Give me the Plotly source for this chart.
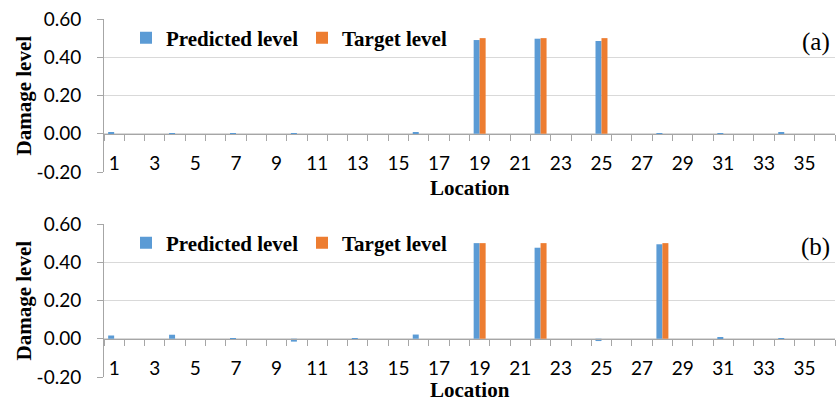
import plotly.graph_objects as go

# Locations 1..36 along the beam
locations = list(range(1, 37))
tick_labels = [str(v) for v in range(1, 37, 2)]

# Case (a): damage at locations 19, 22, 25
pred_a = {1: 0.008, 4: 0.002, 7: -0.004, 10: 0.003, 13: 0.0, 16: 0.004,
          19: 0.49, 22: 0.497, 25: 0.485, 28: 0.003, 31: 0.001, 34: 0.005}
target_a = {19: 0.50, 22: 0.50, 25: 0.50}

# Case (b): damage at locations 19, 22, 28
pred_b = {1: 0.017, 4: 0.021, 7: -0.003, 10: -0.015, 13: -0.004, 16: 0.022,
          19: 0.50, 22: 0.476, 25: -0.012, 28: 0.494, 31: 0.005, 34: -0.003}
target_b = {19: 0.50, 22: 0.50, 28: 0.50}

panels = [("(a)", pred_a, target_a), ("(b)", pred_b, target_b)]

BLUE = "#5B9BD5"
ORANGE = "#ED7D31"
GRID = "#D9D9D9"
AXIS = "#A6A6A6"
SANS = "Lato"
SERIF = "Liberation Serif"

W, H = 836, 402
# pixel extents of each plotting area (top, bottom)
plot_px = [(19, 172), (224, 377)]
left_px, right_px = 104, 835
y_range = [-0.2, 0.6]

fig = go.Figure()
layout = dict(
    width=W, height=H,
    margin=dict(l=0, r=0, t=0, b=0, autoexpand=False),
    paper_bgcolor="white", plot_bgcolor="white",
    barmode="group", bargap=0.41, bargroupgap=0,
    showlegend=True,
)
annotations = []

for i, (tag, pred, target) in enumerate(panels):
    n = "" if i == 0 else str(i + 1)
    top, bot = plot_px[i]
    d0, d1 = 1 - bot / H, 1 - top / H
    zero_pos = d0 + (0 - y_range[0]) / (y_range[1] - y_range[0]) * (d1 - d0)
    legend_name = "legend" + n

    fig.add_trace(go.Bar(
        x=locations, y=[pred.get(k, 0.0) for k in locations],
        name="Predicted level", marker=dict(color=BLUE, line=dict(width=0)),
        xaxis="x" + n, yaxis="y" + n, legend=legend_name,
    ))
    fig.add_trace(go.Bar(
        x=locations, y=[target.get(k, 0.0) for k in locations],
        name="Target level", marker=dict(color=ORANGE, line=dict(width=0)),
        xaxis="x" + n, yaxis="y" + n, legend=legend_name,
    ))

    layout["xaxis" + n] = dict(
        domain=[left_px / W, right_px / W],
        anchor="free", position=zero_pos, automargin=False,
        range=[0.5, 36.5],
        tickmode="array", tickvals=list(range(1, 37, 2)), ticktext=tick_labels,
        ticks="", ticklabelstandoff=12,
        tickfont=dict(family=SANS, size=19, color="#000000"),
        minor=dict(tickmode="linear", tick0=0.5, dtick=1, ticks="outside",
                   ticklen=6, tickcolor=AXIS, tickwidth=1, showgrid=False),
        showline=True, linecolor=AXIS, linewidth=1,
        showgrid=False, zeroline=False, fixedrange=True,
    )
    layout["yaxis" + n] = dict(
        domain=[d0, d1], anchor="x" + n, automargin=False,
        range=y_range, tickmode="array",
        tickvals=[-0.2, 0.0, 0.2, 0.4, 0.6],
        ticktext=["-0.20", "0.00", "0.20", "0.40", "0.60"],
        ticks="outside", ticklen=6, tickcolor=AXIS, ticklabelstandoff=12,
        tickfont=dict(family=SANS, size=19, color="#000000"),
        showline=True, linecolor=AXIS, linewidth=1,
        showgrid=True, gridcolor=GRID, gridwidth=1,
        zeroline=False, fixedrange=True,
    )
    layout[legend_name] = dict(
        orientation="h", x=126 / W, xanchor="left",
        y=1 - (top + 19) / H, yanchor="middle",
        font=dict(family=SERIF, size=21, color="#000000", weight="bold"),
        bgcolor="rgba(0,0,0,0)", entrywidth=131, entrywidthmode="pixels",
        itemclick=False, itemdoubleclick=False,
    )
    annotations.append(dict(
        text=tag, xref="paper", yref="paper", x=832 / W, y=1 - (top + 23) / H,
        xanchor="right", yanchor="middle", showarrow=False,
        font=dict(family=SERIF, size=25, color="#000000"),
    ))
    annotations.append(dict(
        text="<b>Location</b>", xref="paper", yref="paper",
        x=(left_px + right_px) / 2 / W, y=1 - min(bot + 16, H - 12) / H,
        xanchor="center", yanchor="middle", showarrow=False,
        font=dict(family=SERIF, size=21, color="#000000"),
    ))
    annotations.append(dict(
        text="<b>Damage level</b>", xref="paper", yref="paper",
        x=23 / W, y=1 - (top + bot) / 2 / H, textangle=-90,
        xanchor="center", yanchor="middle", showarrow=False,
        font=dict(family=SERIF, size=21, color="#000000"),
    ))

layout["annotations"] = annotations
fig.update_layout(**layout)
fig.write_html("out.html")
